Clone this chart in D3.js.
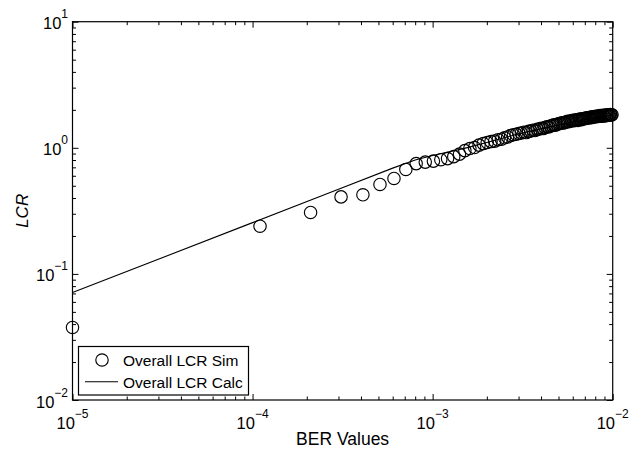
<!DOCTYPE html>
<html><head><meta charset="utf-8">
<script src="https://cdn.jsdelivr.net/npm/d3@7"></script>
<style>
body{margin:0;background:#fff;}
svg{display:block;font-family:"Liberation Sans",Arial,Helvetica,sans-serif;}
</style></head>
<body><svg id="chart" width="632" height="449"></svg>
<script>
// Simulated LCR: BER = 1e-5 + k*1e-4, k = 0..99
const simBER = d3.range(100).map(k => 1e-5 + k * 1e-4);
const simLCR = [
  0.0376, 0.239, 0.307, 0.408, 0.424, 0.512, 0.571, 0.674, 0.749, 0.770,
  0.784, 0.805, 0.821, 0.851, 0.891, 0.950, 0.986, 1.004, 1.05, 1.08,
  1.10, 1.12, 1.13, 1.16, 1.17, 1.20, 1.22, 1.25, 1.27, 1.28,
  1.30, 1.31, 1.33, 1.32, 1.35, 1.36, 1.38, 1.37, 1.40, 1.41,
  1.43, 1.42, 1.45, 1.47, 1.46, 1.49, 1.50, 1.52, 1.51, 1.54,
  1.55, 1.56, 1.58, 1.57, 1.59, 1.60, 1.62, 1.61, 1.63, 1.64,
  1.65, 1.64, 1.66, 1.67, 1.65, 1.68, 1.69, 1.67, 1.70, 1.71,
  1.70, 1.72, 1.73, 1.72, 1.74, 1.75, 1.73, 1.76, 1.75, 1.77,
  1.76, 1.77, 1.79, 1.77, 1.78, 1.80, 1.78, 1.79, 1.81, 1.79,
  1.80, 1.82, 1.80, 1.81, 1.83, 1.81, 1.82, 1.84, 1.82, 1.83
];
// Calculated LCR curve
const calcBER = [1e-5, 1e-4, 3e-4, 6e-4, 8e-4, 1e-3, 1.5e-3, 2e-3, 3e-3, 5e-3, 7e-3, 1e-2];
const calcLCR = [0.0711, 0.255, 0.47, 0.69, 0.80, 0.87, 0.99, 1.10, 1.29, 1.52, 1.67, 1.83];

const xMajor = [1e-5, 1e-4, 1e-3, 1e-2];
const xMajorExp = ["-5", "-4", "-3", "-2"];
const yMajor = [1e-2, 1e-1, 1e0, 1e1];
const yMajorExp = ["-2", "-1", "0", "1"];
const xLabel = "BER Values";
const yLabel = "LCR";
const legendLabels = ["Overall LCR Sim", "Overall LCR Calc"];

const L = 72.5, R = 612.7, T = 21.7, B = 400;
const svg = d3.select("#chart");
const x = d3.scaleLog().domain([1e-5, 1e-2]).range([L, R]);
const y = d3.scaleLog().domain([1e-2, 1e1]).range([B, T]);

function minors(domain) {
  const out = [];
  for (let e = Math.round(Math.log10(domain[0])); e < Math.round(Math.log10(domain[1])); e++)
    for (let m = 2; m <= 9; m++) out.push(m * Math.pow(10, e));
  return out;
}
const xMinor = minors(x.domain()), yMinor = minors(y.domain());

function styleAxis(g) {
  g.select(".domain").remove();
  g.selectAll("line").attr("stroke", "#000").attr("stroke-width", 1);
  g.selectAll("text").remove();
}
[d3.axisBottom, d3.axisTop].forEach((fn, j) => {
  const pos = j === 0 ? B : T;
  svg.append("g").attr("transform", `translate(0,${pos})`)
    .call(fn(x).tickValues(xMajor).tickSize(-6).tickSizeOuter(0)).call(styleAxis);
  svg.append("g").attr("transform", `translate(0,${pos})`)
    .call(fn(x).tickValues(xMinor).tickSize(-3.5).tickSizeOuter(0)).call(styleAxis);
});
[d3.axisLeft, d3.axisRight].forEach((fn, j) => {
  const pos = j === 0 ? L : R;
  svg.append("g").attr("transform", `translate(${pos},0)`)
    .call(fn(y).tickValues(yMajor).tickSize(-6).tickSizeOuter(0)).call(styleAxis);
  svg.append("g").attr("transform", `translate(${pos},0)`)
    .call(fn(y).tickValues(yMinor).tickSize(-3.5).tickSizeOuter(0)).call(styleAxis);
});
svg.append("rect").attr("x", L).attr("y", T).attr("width", R - L).attr("height", B - T)
  .attr("fill", "none").attr("stroke", "#000").attr("stroke-width", 1.2);

// tick labels
xMajor.forEach((v, i) => {
  const t = svg.append("text").attr("x", x(v)).attr("y", 428.5).attr("text-anchor", "middle")
    .attr("font-size", 16.5).attr("fill", "#000");
  t.append("tspan").text("10");
  t.append("tspan").attr("dy", -11).attr("font-size", 12).text(xMajorExp[i].replace("-", "\u2212"));
});
yMajor.forEach((v, i) => {
  const t = svg.append("text").attr("x", 68).attr("y", y(v) + 7.5).attr("text-anchor", "end")
    .attr("font-size", 16.5).attr("fill", "#000");
  t.append("tspan").text("10");
  t.append("tspan").attr("dy", -11).attr("font-size", 12).text(yMajorExp[i].replace("-", "\u2212"));
});
// axis labels
svg.append("text").attr("x", (L + R) / 2).attr("y", 444.5).attr("text-anchor", "middle")
  .attr("font-size", 17.5).text(xLabel);
svg.append("text").attr("transform", `translate(28,${(T + B) / 2}) rotate(-90)`)
  .attr("text-anchor", "middle").attr("font-size", 17).attr("font-style", "italic").text(yLabel);

// calc line
const line = d3.line().x(d => x(d[0])).y(d => y(d[1]));
svg.append("path").datum(calcBER.map((b, i) => [b, calcLCR[i]]))
  .attr("d", line).attr("fill", "none").attr("stroke", "#000").attr("stroke-width", 1.1);
// sim circles
svg.append("g").selectAll("circle").data(simBER.map((b, i) => [b, simLCR[i]])).join("circle")
  .attr("cx", d => x(d[0])).attr("cy", d => y(d[1])).attr("r", 6.2)
  .attr("fill", "none").attr("stroke", "#000").attr("stroke-width", 1.15);

// legend
const lg = svg.append("g");
lg.append("rect").attr("x", 78.5).attr("y", 346.5).attr("width", 170).attr("height", 48.5)
  .attr("fill", "#fff").attr("stroke", "#000").attr("stroke-width", 1.2);
lg.append("circle").attr("cx", 102).attr("cy", 360).attr("r", 6.2).attr("fill", "none").attr("stroke", "#000").attr("stroke-width", 1.15);
lg.append("line").attr("x1", 85).attr("x2", 118).attr("y1", 381.7).attr("y2", 381.7).attr("stroke", "#000").attr("stroke-width", 1.1);
lg.append("text").attr("x", 123).attr("y", 366).attr("font-size", 15.5).text(legendLabels[0]);
lg.append("text").attr("x", 123).attr("y", 387.5).attr("font-size", 15.5).text(legendLabels[1]);
</script>
</body></html>
